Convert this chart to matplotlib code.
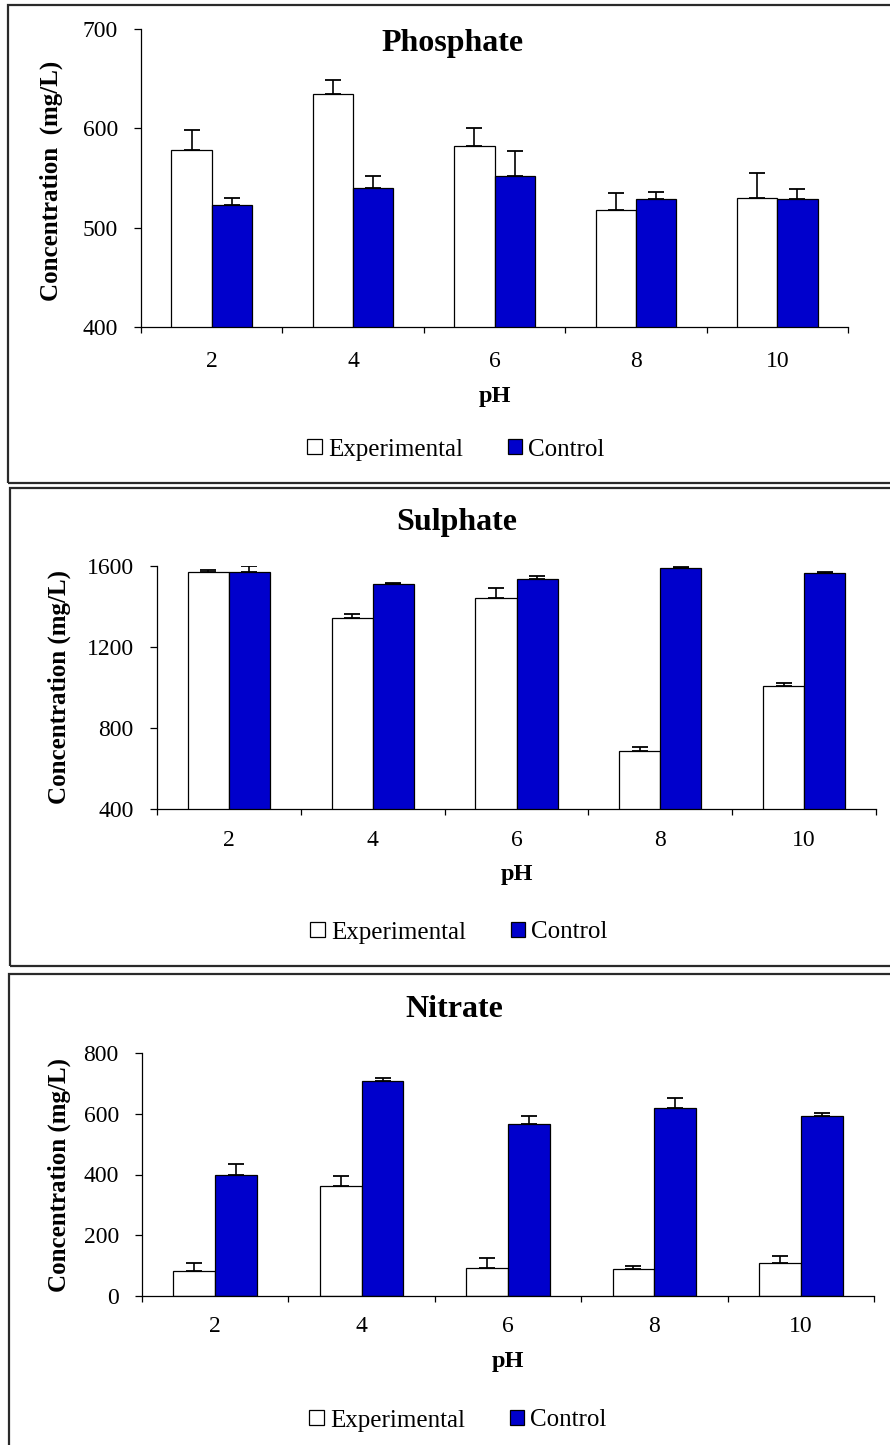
import numpy as np
import matplotlib
matplotlib.use("Agg")
import matplotlib.pyplot as plt
from matplotlib.patches import Patch, Rectangle

# ---------------- data ----------------
ph_labels = ["2", "4", "6", "8", "10"]

phosphate_exp = [578, 635, 582, 518, 530]
phosphate_exp_err = [20, 14, 18, 17, 25]
phosphate_ctl = [523, 540, 552, 529, 529]
phosphate_ctl_err = [7, 12, 25, 7, 10]

sulphate_exp = [1572, 1345, 1444, 688, 1007]
sulphate_exp_err = [10, 16, 49, 16, 16]
sulphate_ctl = [1572, 1510, 1534, 1590, 1565]
sulphate_ctl_err = [30, 6, 15, 7, 7]

nitrate_exp = [82, 363, 92, 88, 110]
nitrate_exp_err = [28, 33, 34, 11, 22]
nitrate_ctl = [400, 708, 565, 620, 592]
nitrate_ctl_err = [34, 10, 28, 33, 12]

series_names = ["Experimental", "Control"]
titles = ["Phosphate", "Sulphate", "Nitrate"]
ylabels = ["Concentration  (mg/L)", "Concentration (mg/L)", "Concentration (mg/L)"]
yticks_list = [[400, 500, 600, 700], [400, 800, 1200, 1600], [0, 200, 400, 600, 800]]
ylims = [(400, 700), (400, 1600), (0, 800)]

# ---------------- style ----------------
plt.rcParams["font.family"] = ["Liberation Serif", "DejaVu Serif"]
W, H = 890, 1445
BLUE = "#0000CC"
fig = plt.figure(figsize=(W / 100, H / 100), dpi=100)

# layout in pixels
layouts = [
    dict(ax=(141, 848, 29, 327), frame=(8, 5, 483), title=(453, 51), ylab_x=51, ylab_y=181,
         xpad=17.5, xlab_base=402, leg=(456, 449.7)),
    dict(ax=(157, 876, 566, 809), frame=(10, 488, 966), title=(457, 530), ylab_x=59.5, ylab_y=687.5,
         xpad=15.0, xlab_base=880, leg=(459, 932.5)),
    dict(ax=(142, 874, 1053, 1296), frame=(8.5, 974, 1460), title=(454, 1017), ylab_x=59.5, ylab_y=1174.5,
         xpad=14.3, xlab_base=1367, leg=(458, 1420.5)),
]

data = [
    (phosphate_exp, phosphate_exp_err, phosphate_ctl, phosphate_ctl_err),
    (sulphate_exp, sulphate_exp_err, sulphate_ctl, sulphate_ctl_err),
    (nitrate_exp, nitrate_exp_err, nitrate_ctl, nitrate_ctl_err),
]

x = np.arange(len(ph_labels))
bw = 0.2857

for i, (lay, (ev, ee, cv, ce)) in enumerate(zip(layouts, data)):
    # frame
    fx, ftop, fbot = lay["frame"]
    fig.add_artist(Rectangle((fx / W, 1 - fbot / H), (905 - fx) / W, (fbot - ftop) / H,
                             transform=fig.transFigure, fill=False, edgecolor="#2a2a2a",
                             linewidth=1.6, clip_on=False))

    l, r, t, b = lay["ax"]
    ax = fig.add_axes([l / W, 1 - b / H, (r - l) / W, (b - t) / H])
    ax.set_facecolor("none")

    ax.bar(x - bw / 2, ev, bw, color="white", edgecolor="black", linewidth=0.9, zorder=2)
    ax.bar(x + bw / 2, cv, bw, color=BLUE, edgecolor="black", linewidth=0.9, zorder=2)
    ax.errorbar(x - bw / 2, ev, yerr=[np.zeros(len(ee)), ee], fmt="none", ecolor="black",
                elinewidth=1.2, capsize=6, capthick=1.3, zorder=3)
    ax.errorbar(x + bw / 2, cv, yerr=[np.zeros(len(ce)), ce], fmt="none", ecolor="black",
                elinewidth=1.2, capsize=6, capthick=1.3, zorder=3)

    ax.set_xlim(-0.5, len(ph_labels) - 0.5)
    ax.set_ylim(*ylims[i])
    ax.set_yticks(yticks_list[i])
    ax.set_yticklabels([str(v) for v in yticks_list[i]])

    ax.set_xticks(np.arange(-0.5, len(ph_labels), 1.0))
    ax.set_xticklabels([])
    ax.set_xticks(x, minor=True)
    ax.set_xticklabels(ph_labels, minor=True)
    ax.tick_params(axis="x", which="major", direction="out", length=4.5, width=0.9)
    ax.tick_params(axis="x", which="minor", length=0, pad=lay["xpad"], labelsize=17)
    ax.tick_params(axis="y", which="major", direction="out", length=4.7, width=0.9,
                   pad=12, labelsize=17)

    for s in ["top", "right"]:
        ax.spines[s].set_visible(False)
    for s in ["left", "bottom"]:
        ax.spines[s].set_linewidth(0.9)
        ax.spines[s].set_color("black")

    # title
    tx, tb = lay["title"]
    ttl = ax.set_title(titles[i], fontsize=23, fontweight="bold", pad=0,
                       y=(b - tb) / (b - t))
    ttl.set_x((tx - l) / (r - l))

    # y label
    ax.set_ylabel(ylabels[i], fontsize=18, fontweight="bold")
    ax.yaxis.label.set_rotation_mode("default")
    ax.yaxis.label.set_va("center")
    ax.yaxis.label.set_ha("center")
    ax.yaxis.set_label_coords((lay["ylab_x"] - l) / (r - l), (b - lay["ylab_y"]) / (b - t))

    # x label
    ax.set_xlabel("pH", fontsize=17.5, fontweight="bold")
    ax.xaxis.label.set_va("baseline")
    ax.xaxis.set_label_coords(0.5, -(lay["xlab_base"] - b) / (b - t))

    # legend
    handles = [Patch(facecolor="white", edgecolor="black", linewidth=0.9),
               Patch(facecolor=BLUE, edgecolor="black", linewidth=0.9)]
    lx, ly = lay["leg"]
    ax.legend(handles, series_names, loc="center", bbox_to_anchor=(lx / W, 1 - ly / H),
              bbox_transform=fig.transFigure, ncol=2, frameon=False, fontsize=18,
              handlelength=0.58, handleheight=0.56, handletextpad=0.24,
              columnspacing=1.8, borderpad=0, borderaxespad=0)

fig.savefig("out.png", dpi=100)
